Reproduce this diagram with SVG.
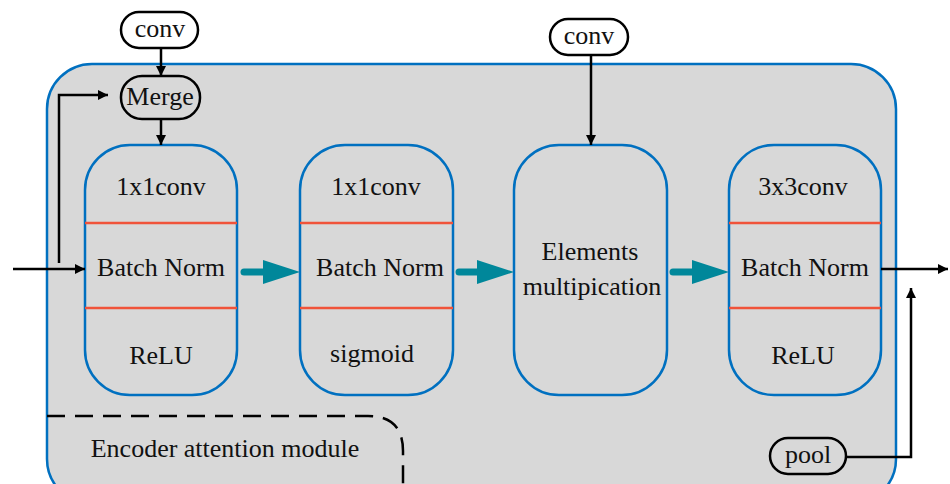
<svg xmlns="http://www.w3.org/2000/svg" width="950" height="484" viewBox="0 0 950 484">
<defs>
<style>
text{font-family:"Liberation Serif","Times New Roman",serif;font-size:26px;fill:#111;text-anchor:middle}
.blk{fill:#d8d8d8;stroke:#0070c0;stroke-width:2.5}
.red{stroke:#f0533a;stroke-width:2.5}
.pill{stroke:#000;stroke-width:2.5}
.ln{fill:none;stroke:#000;stroke-width:2.5}
.teal{fill:none;stroke:#00879a;stroke-width:7;stroke-linecap:round}
</style>
<marker id="ah" markerWidth="10" markerHeight="10" refX="10" refY="5" orient="auto" markerUnits="userSpaceOnUse" viewBox="0 0 10 10">
<path d="M0,0 L10,5 L0,10 z" fill="#000"/>
</marker>
</defs>
<g id="container">
<rect x="47" y="64" width="849" height="440" rx="45" fill="#d8d8d8" stroke="#0070c0" stroke-width="2.5"/>
</g>
<g id="block1">
<rect class="blk" x="85" y="145" width="152" height="250" rx="45"/>
<line class="red" x1="85" y1="223" x2="237" y2="223"/>
<line class="red" x1="85" y1="308" x2="237" y2="308"/>
<text x="161" y="195">1x1conv</text>
<text x="161" y="276">Batch Norm</text>
<text x="161" y="364">ReLU</text>
</g>
<g id="block2">
<rect class="blk" x="300" y="145" width="153" height="250" rx="45"/>
<line class="red" x1="300" y1="223" x2="453" y2="223"/>
<line class="red" x1="300" y1="308" x2="453" y2="308"/>
<text x="376" y="195">1x1conv</text>
<text x="380" y="276">Batch Norm</text>
<text x="372" y="362">sigmoid</text>
</g>
<g id="block3">
<rect class="blk" x="514" y="145" width="153" height="250" rx="45"/>
<text x="590" y="260">Elements</text>
<text x="592" y="295">multipication</text>
</g>
<g id="block4">
<rect class="blk" x="729" y="145" width="152" height="250" rx="45"/>
<line class="red" x1="729" y1="223" x2="881" y2="223"/>
<line class="red" x1="729" y1="308" x2="881" y2="308"/>
<text x="803" y="195">3x3conv</text>
<text x="805" y="276">Batch Norm</text>
<text x="803" y="364">ReLU</text>
</g>
<g id="conv1">
<rect class="pill" x="121" y="12" width="77" height="36" rx="18" fill="#fff"/>
<text x="160" y="37">conv</text>
</g>
<g id="merge">
<rect class="pill" x="121" y="76" width="79" height="43" rx="21" fill="#d8d8d8"/>
<text x="160" y="105">Merge</text>
</g>
<g id="conv2">
<rect class="pill" x="550" y="19" width="78" height="36" rx="18" fill="#fff"/>
<text x="589" y="44">conv</text>
</g>
<g id="pool">
<rect class="pill" x="770" y="438" width="76" height="36" rx="18" fill="#d8d8d8"/>
<text x="808" y="463">pool</text>
</g>
<g id="label">
<path d="M47,416 H368 Q403,416 403,451 V484" fill="none" stroke="#000" stroke-width="2.5" stroke-dasharray="18,10"/>
<text x="225" y="457">Encoder attention module</text>
</g>
<g id="connectors">
<line class="ln" x1="161" y1="48" x2="161" y2="76" marker-end="url(#ah)"/>
<line class="ln" x1="161" y1="119" x2="161" y2="145" marker-end="url(#ah)"/>
<line class="ln" x1="591" y1="55" x2="591" y2="145" marker-end="url(#ah)"/>
<line class="ln" x1="13" y1="269" x2="85" y2="269" marker-end="url(#ah)"/>
<polyline class="ln" points="59,263 59,95 108,95" marker-end="url(#ah)"/>
<line class="ln" x1="881" y1="269" x2="948" y2="269" marker-end="url(#ah)"/>
<polyline class="ln" points="846,457 911,457 911,288" marker-end="url(#ah)"/>
<line class="teal" x1="244" y1="272" x2="268" y2="272"/>
<path d="M263,260 L300,272 L263,284 z" fill="#00879a"/>
<line class="teal" x1="459" y1="272" x2="482" y2="272"/>
<path d="M477,260 L514,272 L477,284 z" fill="#00879a"/>
<line class="teal" x1="673" y1="272" x2="697" y2="272"/>
<path d="M692,260 L729,272 L692,284 z" fill="#00879a"/>
</g>
</svg>
